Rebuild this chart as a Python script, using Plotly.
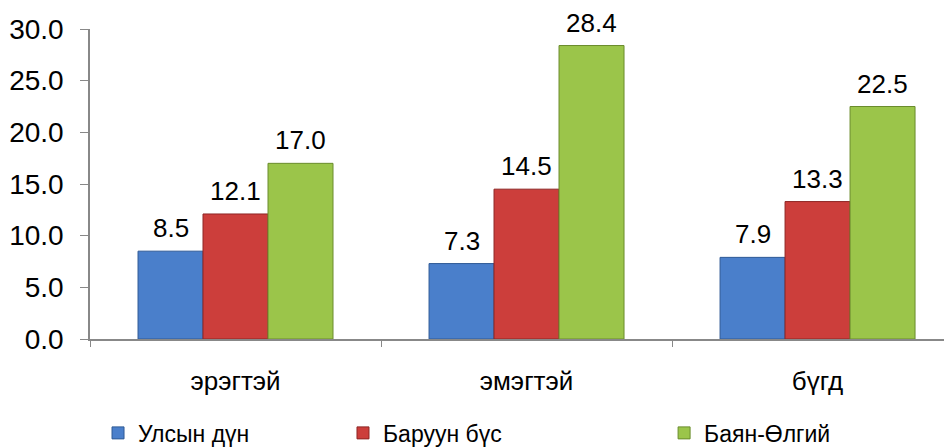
import plotly.graph_objects as go

categories = ["эрэгтэй", "эмэгтэй", "бүгд"]
series_names = ["Улсын дүн", "Баруун бүс", "Баян-Өлгий"]
ulsyn_dun = [8.5, 7.3, 7.9]
baruun_bus = [12.1, 14.5, 13.3]
bayan_olgii = [17.0, 28.4, 22.5]
y_ticks = [0, 5, 10, 15, 20, 25, 30]

colors = ["#4a7fcb", "#cc3e3b", "#9bc54a"]
line_colors = ["#2f5a96", "#8e2624", "#6a8c2c"]
all_values = [ulsyn_dun, baruun_bus, bayan_olgii]

FONT = "Liberation Sans, Arial, sans-serif"
bargap = 0.33

fig = go.Figure()
legend_ids = ["legend", "legend2", "legend3"]
for i, (name, vals) in enumerate(zip(series_names, all_values)):
    fig.add_trace(go.Bar(
        x=categories, y=vals, name=name,
        marker=dict(color=colors[i], line=dict(color=line_colors[i], width=1)),
        legend=legend_ids[i],
    ))

bar_w = (1 - bargap) / 3
annotations = []
for i, vals in enumerate(all_values):
    for j, v in enumerate(vals):
        annotations.append(dict(
            x=j + (i - 1) * bar_w, y=v, xref="x", yref="y",
            text=f"{v:.1f}", showarrow=False, yanchor="bottom",
            yshift=6, font=dict(family=FONT, size=26, color="#000000"),
        ))

fig.update_layout(
    width=944, height=440,
    margin=dict(l=82, r=0, t=21, b=109, autoexpand=False),
    paper_bgcolor="white", plot_bgcolor="white",
    barmode="group", bargap=bargap, bargroupgap=0,
    font=dict(family=FONT, size=24, color="#000000"),
    annotations=annotations,
    xaxis=dict(
        type="category", range=[-0.5, 2.462], automargin=False,
        showline=True, linecolor="#888888", linewidth=1.5,
        ticks="outside", tickson="boundaries", ticklen=6, tickcolor="#888888",
        tickwidth=1, ticklabelstandoff=18,
        tickfont=dict(family=FONT, size=26), showgrid=False, zeroline=False,
    ),
    yaxis=dict(
        range=[0, 30], tickvals=y_ticks, tickformat=".1f", automargin=False,
        showline=True, linecolor="#888888", linewidth=1.5,
        ticks="outside", ticklen=8, tickcolor="#888888", tickwidth=1,
        ticklabelstandoff=11,
        tickfont=dict(family=FONT, size=28), showgrid=False, zeroline=False,
    ),
    showlegend=True,
)

leg_x = [0.0093, 0.2935, 0.666]
for lid, lx in zip(legend_ids, leg_x):
    fig.update_layout({lid: dict(
        x=lx, y=-0.303, xanchor="left", yanchor="middle",
        orientation="h", bgcolor="rgba(0,0,0,0)",
        font=dict(family=FONT, size=23), itemwidth=30,
    )})

fig.write_html("out.html")
